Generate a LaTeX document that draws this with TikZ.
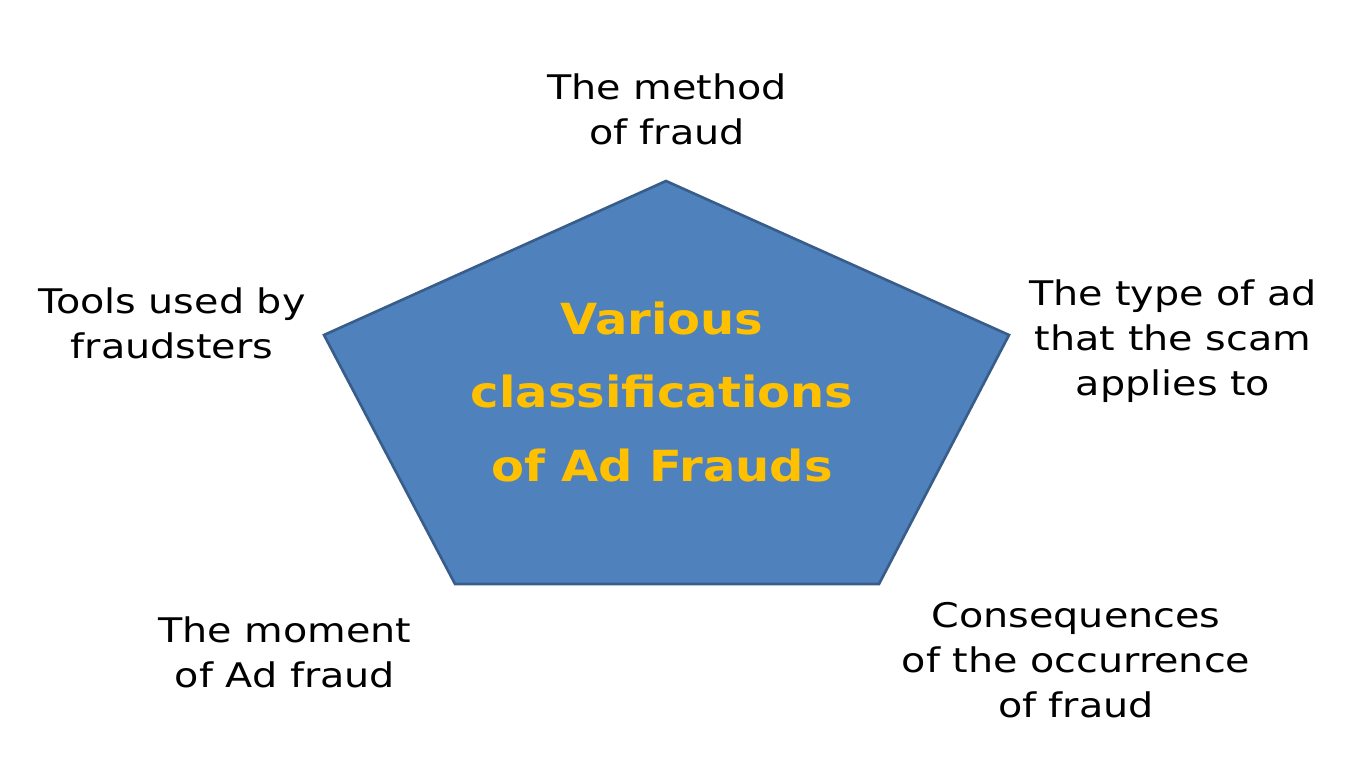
\documentclass[tikz,border=0pt]{standalone}
\usepackage{fontspec}
\setmainfont{DejaVu Sans}[FakeStretch=1.17]
\newfontfamily\titlefont{DejaVu Sans}[FakeStretch=1.12]
\definecolor{pentfill}{HTML}{4F81BD}
\definecolor{pentdraw}{HTML}{385D8A}
\definecolor{titlegold}{HTML}{FFC000}
\begin{document}
\begin{tikzpicture}[x=0.02cm,y=-0.02cm,
  lbl/.style={align=center,font=\fontsize{19.3}{25.6}\selectfont,text=black,inner sep=0pt},
  ttl/.style={align=center,font=\titlefont\fontsize{24.4}{42}\selectfont\bfseries,text=titlegold,inner sep=0pt}]
\useasboundingbox (0,0) rectangle (1364,773);
\coordinate (pt) at (666,181);
\coordinate (pl) at (324,335);
\coordinate (pr) at (1009,335);
\coordinate (pbl) at (455,584);
\coordinate (pbr) at (879,584);
\filldraw[fill=pentfill,draw=pentdraw,line width=1.5pt,line join=miter] (pt) -- (pr) -- (pbr) -- (pbl) -- (pl) -- cycle;
\node[ttl] (title) at (662,392) {Various\\classifications\\of Ad Frauds};
\node[lbl] (method) at (667,109) {The method\\of fraud};
\node[lbl] (tools) at (172,323) {Tools used by\\fraudsters};
\node[lbl] (type) at (1173,341) {The type of ad\\that the scam\\applies to};
\node[lbl] (moment) at (285,652) {The moment\\of Ad fraud};
\node[lbl] (conseq) at (1076,660) {Consequences\\of the occurrence\\of fraud};
\end{tikzpicture}
\end{document}
